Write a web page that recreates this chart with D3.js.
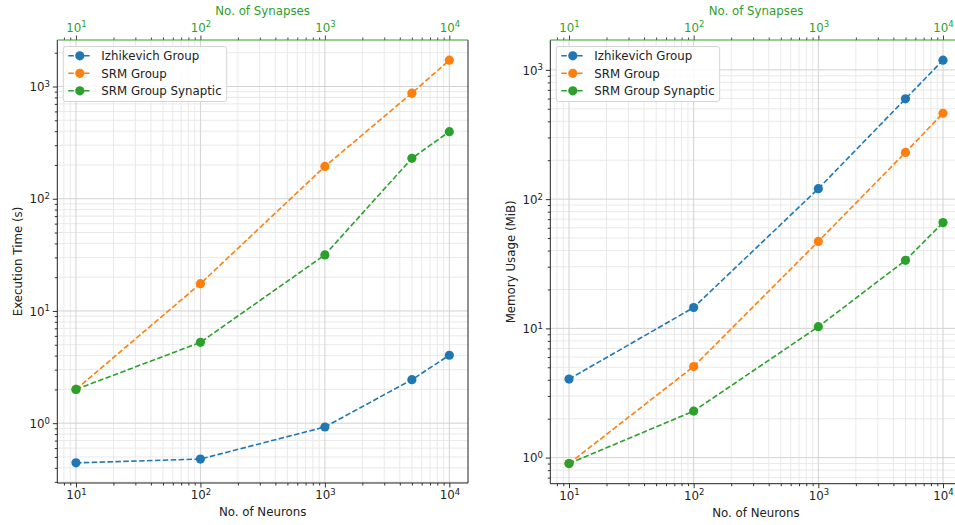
<!DOCTYPE html>
<html>
<head>
<meta charset="utf-8">
<script src="https://cdn.jsdelivr.net/npm/d3@7"></script>
<style>
  body { margin: 0; background: #fff; }
  svg { font-family: "DejaVu Sans", sans-serif; }
</style>
</head>
<body>
<div id="chart"></div>
<script>
// data
var neurons = [10, 100, 1000, 5000, 10000];
var seriesNames = ["Izhikevich Group", "SRM Group", "SRM Group Synaptic"];
var seriesColors = ["#1f77b4", "#ff7f0e", "#2ca02c"];

var execIzh = [0.443, 0.479, 0.925, 2.44, 4.03];
var execSrm = [2.0, 17.5, 194, 873, 1718];
var execSyn = [2.0, 5.25, 31.6, 229, 396];

var memIzh = [4.05, 14.5, 120.5, 597, 1189];
var memSrm = [0.9, 5.07, 47.1, 230, 462];
var memSyn = [0.9, 2.29, 10.3, 33.6, 65.8];

var xTicks = [10, 100, 1000, 10000];
var yTicks = [1, 10, 100, 1000];

var svgWidth = 955;
var svgHeight = 525;
var synColor = "#2ca02c";
var fontSize = "11.8px";

var svg = d3.select("#chart")
  .append("svg")
  .attr("width", svgWidth)
  .attr("height", svgHeight);

// log domain padded 5% like matplotlib autoscale
function padLog(vals) {
  var lo = Math.log10(d3.min(vals)), hi = Math.log10(d3.max(vals));
  var m = (hi - lo) * 0.05;
  return [Math.pow(10, lo - m), Math.pow(10, hi + m)];
}

// minor ticks 2..9 for each decade inside the domain
function minorTicks(domain) {
  var out = [];
  for (var e = Math.floor(Math.log10(domain[0])); e <= Math.ceil(Math.log10(domain[1])); e++) {
    for (var k = 2; k <= 9; k++) {
      var v = k * Math.pow(10, e);
      if (v >= domain[0] && v <= domain[1]) out.push(v);
    }
  }
  return out;
}

// "10" with superscript exponent
function powLabel(sel) {
  sel.each(function(d) {
    var t = d3.select(this);
    t.text(null);
    t.append("tspan").text("10");
    t.append("tspan")
      .attr("dy", "-0.5em")
      .attr("font-size", "0.72em")
      .text(Math.round(Math.log10(d)));
  });
}

function drawPanel(box, series, yLabel) {
  var w = box.right - box.left;
  var h = box.bottom - box.top;
  var g = svg.append("g").attr("transform", `translate(${box.left}, ${box.top})`);

  var xScale = d3.scaleLog().domain(padLog(neurons)).range([0, w]);
  var allY = [].concat.apply([], series);
  var yScale = d3.scaleLog().domain(padLog(allY)).range([h, 0]);

  var xMinor = minorTicks(xScale.domain());
  var yMinor = minorTicks(yScale.domain());

  // grid, minor then major
  g.append("g").selectAll("line").data(xMinor).enter().append("line")
    .attr("x1", d => xScale(d)).attr("x2", d => xScale(d))
    .attr("y1", 0).attr("y2", h)
    .attr("stroke", "#e7e7e7").attr("stroke-width", 0.9);
  g.append("g").selectAll("line").data(yMinor).enter().append("line")
    .attr("y1", d => yScale(d)).attr("y2", d => yScale(d))
    .attr("x1", 0).attr("x2", w)
    .attr("stroke", "#e7e7e7").attr("stroke-width", 0.9);
  g.append("g").selectAll("line").data(xTicks).enter().append("line")
    .attr("x1", d => xScale(d)).attr("x2", d => xScale(d))
    .attr("y1", 0).attr("y2", h)
    .attr("stroke", "#d2d2d2").attr("stroke-width", 1);
  g.append("g").selectAll("line").data(yTicks).enter().append("line")
    .attr("y1", d => yScale(d)).attr("y2", d => yScale(d))
    .attr("x1", 0).attr("x2", w)
    .attr("stroke", "#d2d2d2").attr("stroke-width", 1);

  // lines and markers
  var line = d3.line()
    .x((d, i) => xScale(neurons[i]))
    .y(d => yScale(d));

  series.forEach(function(vals, s) {
    g.append("path")
      .datum(vals)
      .attr("d", line)
      .attr("fill", "none")
      .attr("stroke", seriesColors[s])
      .attr("stroke-width", 1.6)
      .attr("stroke-dasharray", "5.5,2.4");
    g.append("g").selectAll("circle").data(vals).enter().append("circle")
      .attr("cx", (d, i) => xScale(neurons[i]))
      .attr("cy", d => yScale(d))
      .attr("r", 4.6)
      .attr("fill", seriesColors[s]);
  });

  // axes
  function styleAxis(ax, color) {
    ax.select(".domain").remove();
    ax.selectAll(".tick line").attr("stroke", color || "#333");
    ax.selectAll("text")
      .attr("font-size", fontSize)
      .attr("font-family", "DejaVu Sans, sans-serif")
      .attr("fill", color || "#222");
  }

  var bottomMajor = g.append("g")
    .attr("transform", `translate(0, ${h})`)
    .call(d3.axisBottom(xScale).tickValues(xTicks).tickSize(4.5).tickPadding(3).tickFormat(""));
  styleAxis(bottomMajor);
  bottomMajor.selectAll(".tick text").call(powLabel);
  var bottomMinor = g.append("g")
    .attr("transform", `translate(0, ${h})`)
    .call(d3.axisBottom(xScale).tickValues(xMinor).tickSize(2.5).tickFormat(""));
  styleAxis(bottomMinor);

  var topMajor = g.append("g")
    .call(d3.axisTop(xScale).tickValues(xTicks).tickSize(4.5).tickPadding(4).tickFormat(""));
  styleAxis(topMajor, "#444");
  topMajor.selectAll(".tick text").attr("fill", synColor).call(powLabel);
  var topMinor = g.append("g")
    .call(d3.axisTop(xScale).tickValues(xMinor).tickSize(2.5).tickFormat(""));
  styleAxis(topMinor, "#444");

  var leftMajor = g.append("g")
    .call(d3.axisLeft(yScale).tickValues(yTicks).tickSize(4.5).tickPadding(3).tickFormat(""));
  styleAxis(leftMajor);
  leftMajor.selectAll(".tick text").attr("dy", "0.35em").call(powLabel);
  var leftMinor = g.append("g")
    .call(d3.axisLeft(yScale).tickValues(yMinor).tickSize(2.5).tickFormat(""));
  styleAxis(leftMinor);

  // spines
  g.append("line").attr("x1", 0).attr("x2", 0).attr("y1", 0).attr("y2", h)
    .attr("stroke", "#222").attr("stroke-width", 1);
  g.append("line").attr("x1", w).attr("x2", w).attr("y1", 0).attr("y2", h)
    .attr("stroke", "#222").attr("stroke-width", 1);
  g.append("line").attr("x1", 0).attr("x2", w).attr("y1", h).attr("y2", h)
    .attr("stroke", "#222").attr("stroke-width", 1);
  g.append("line").attr("x1", 0).attr("x2", w).attr("y1", 0).attr("y2", 0)
    .attr("stroke", synColor).attr("stroke-width", 1);

  // axis titles
  g.append("text")
    .attr("x", xScale(Math.sqrt(10 * 10000)))
    .attr("y", h + 33)
    .attr("text-anchor", "middle")
    .attr("font-size", fontSize)
    .attr("fill", "#222")
    .text("No. of Neurons");
  g.append("text")
    .attr("x", xScale(Math.sqrt(10 * 10000)))
    .attr("y", -25)
    .attr("text-anchor", "middle")
    .attr("font-size", fontSize)
    .attr("fill", synColor)
    .text("No. of Synapses");
  g.append("text")
    .attr("transform", "rotate(-90)")
    .attr("x", -h / 2)
    .attr("y", -35)
    .attr("text-anchor", "middle")
    .attr("font-size", fontSize)
    .attr("fill", "#222")
    .text(yLabel);

  // legend
  var legend = g.append("g").attr("transform", "translate(6, 6.5)");
  var legendBox = legend.append("rect")
    .attr("x", 0).attr("y", 0)
    .attr("height", 55)
    .attr("rx", 2.5)
    .attr("fill", "#fff").attr("fill-opacity", 0.85)
    .attr("stroke", "#d0d0d0").attr("stroke-width", 0.9);
  var maxW = 0;
  seriesNames.forEach(function(name, i) {
    var cy = 9.3 + i * 17.5;
    legend.append("line")
      .attr("x1", 5).attr("x2", 28)
      .attr("y1", cy).attr("y2", cy)
      .attr("stroke", seriesColors[i])
      .attr("stroke-width", 1.6)
      .attr("stroke-dasharray", "5.5,2.4");
    legend.append("circle")
      .attr("cx", 16.5).attr("cy", cy).attr("r", 4.6)
      .attr("fill", seriesColors[i]);
    var t = legend.append("text")
      .attr("x", 38).attr("y", cy + 4.2)
      .attr("font-size", fontSize)
      .attr("fill", "#222")
      .text(name);
    maxW = Math.max(maxW, t.node().getComputedTextLength());
  });
  legendBox.attr("width", 38 + maxW + 5);
}

drawPanel({left: 57.3, right: 468, top: 40, bottom: 483},
  [execIzh, execSrm, execSyn], "Execution Time (s)");
drawPanel({left: 550.3, right: 961.7, top: 40, bottom: 483.7},
  [memIzh, memSrm, memSyn], "Memory Usage (MiB)");
</script>
</body>
</html>
